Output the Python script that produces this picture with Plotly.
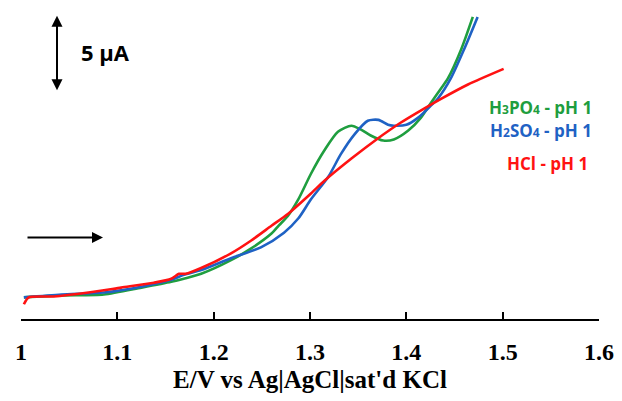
import plotly.graph_objects as go

# Data (E in V vs Ag|AgCl, current in µA, arbitrary offset)
v_hcl = [1.003, 1.008, 1.034, 1.070, 1.104, 1.138, 1.156, 1.164, 1.171, 1.187, 1.218, 1.239,
         1.260, 1.277, 1.301, 1.315, 1.343, 1.369, 1.394, 1.418, 1.436, 1.464, 1.501]
i_hcl = [-0.32, 0.13, 0.19, 0.45, 0.77, 1.09, 1.35, 1.67, 1.67, 2.05, 3.01, 3.85,
         4.81, 5.58, 6.92, 7.75, 9.20, 10.45, 11.54, 12.45, 13.10, 14.04, 15.06]

v_h3po4 = [1.003, 1.042, 1.086, 1.125, 1.156, 1.169, 1.187, 1.218, 1.239, 1.260, 1.268, 1.277,
           1.288, 1.301, 1.315, 1.329, 1.343, 1.353, 1.363, 1.376, 1.387, 1.402, 1.415, 1.426,
           1.436, 1.443, 1.457, 1.469]
i_h3po4 = [0.13, 0.26, 0.32, 0.77, 1.15, 1.35, 1.67, 2.56, 3.33, 4.30, 4.85, 5.45,
           6.55, 8.21, 9.74, 10.95, 11.35, 11.09, 10.71, 10.38, 10.45, 11.03, 11.86, 12.88,
           13.78, 14.42, 16.35, 18.46]

v_h2so4 = [1.003, 1.042, 1.086, 1.125, 1.156, 1.169, 1.187, 1.218, 1.249, 1.273, 1.288, 1.301,
           1.319, 1.332, 1.346, 1.360, 1.371, 1.381, 1.387, 1.400, 1.412, 1.426, 1.433,
           1.446, 1.460, 1.474]
i_h2so4 = [0.13, 0.32, 0.45, 0.83, 1.28, 1.60, 1.92, 2.69, 3.40, 4.36, 5.30, 6.54,
           8.01, 9.49, 10.77, 11.67, 11.73, 11.41, 11.35, 11.41, 11.86, 12.69, 13.14,
           14.42, 16.35, 18.46]

x_ticks = [1.0, 1.1, 1.2, 1.3, 1.4, 1.5, 1.6]
x_tick_labels = ["1", "1.1", "1.2", "1.3", "1.4", "1.5", "1.6"]

GREEN = "#1f9e3f"
BLUE = "#1f62c4"
RED = "#ff1212"

fig = go.Figure()
fig.add_trace(go.Scatter(x=v_h3po4, y=i_h3po4, mode="lines", name="H3PO4 - pH 1",
                         line=dict(color=GREEN, width=2.6, shape="spline", smoothing=0.7)))
fig.add_trace(go.Scatter(x=v_h2so4, y=i_h2so4, mode="lines", name="H2SO4 - pH 1",
                         line=dict(color=BLUE, width=2.6, shape="spline", smoothing=0.7)))
fig.add_trace(go.Scatter(x=v_hcl, y=i_hcl, mode="lines", name="HCl - pH 1",
                         line=dict(color=RED, width=2.6, shape="spline", smoothing=0.7)))

# page body has an 8px margin: figure is drawn at (8, 8)
OFF = 8
W, H = 606, 385
L, R, T, B = 13, 15, 0, 68
pw, ph = W - L - R, H - T - B


def px(x):
    return (x - OFF - L) / pw


def py(y):
    return (H - B - (y - OFF)) / ph


annotations = [
    # vertical scale bar (double arrow)
    dict(x=px(57), y=py(16), xref="paper", yref="paper", ax=0, ay=76, text="",
         showarrow=True, arrowhead=2, startarrowhead=2, arrowside="end+start",
         arrowsize=1.1, arrowwidth=2, arrowcolor="black"),
    dict(x=px(79), y=py(53), xref="paper", yref="paper", text="<b>5 µA</b>", showarrow=False,
         xanchor="left", yanchor="middle", font=dict(family="Open Sans", size=22, color="black")),
    # scan direction arrow
    dict(x=px(103), y=py(242), xref="paper", yref="paper", ax=-77, ay=0, text="",
         showarrow=True, arrowhead=2, arrowsize=1.1, arrowwidth=2, arrowcolor="black"),
    dict(x=px(594), y=py(109), xref="paper", yref="paper",
         text="<b>H<span style='font-size:12px'>3</span>PO<span style='font-size:12px'>4</span> - pH 1</b>",
         showarrow=False, xanchor="right", yanchor="middle",
         font=dict(family="Open Sans", size=17, color=GREEN)),
    dict(x=px(594), y=py(133), xref="paper", yref="paper",
         text="<b>H<span style='font-size:12px'>2</span>SO<span style='font-size:12px'>4</span> - pH 1</b>",
         showarrow=False, xanchor="right", yanchor="middle",
         font=dict(family="Open Sans", size=17, color=BLUE)),
    dict(x=px(590), y=py(167), xref="paper", yref="paper", text="<b>HCl - pH 1</b>",
         showarrow=False, xanchor="right", yanchor="middle",
         font=dict(family="Open Sans", size=17, color=RED)),
]

fig.update_layout(
    width=W, height=H,
    margin=dict(l=L, r=R, t=T, b=B, pad=0),
    paper_bgcolor="white", plot_bgcolor="white",
    showlegend=False,
    annotations=annotations,
    xaxis=dict(
        range=[1.0, 1.6], tickvals=x_ticks, ticktext=["<b>" + t + "</b>" for t in x_tick_labels],
        showgrid=False, zeroline=False, showline=True, linecolor="black", linewidth=2,
        ticks="inside", ticklen=7, tickwidth=2, tickcolor="black",
        tickfont=dict(family="Liberation Serif", size=24, color="black"),
        ticklabelstandoff=10,
        title=dict(text="<b>E/V vs Ag|AgCl|sat'd KCl</b>", standoff=11,
                   font=dict(family="Liberation Serif", size=25, color="black")),
    ),
    yaxis=dict(range=[-1.282, 19.04], visible=False, showgrid=False, zeroline=False),
)

fig.write_html("out.html")
